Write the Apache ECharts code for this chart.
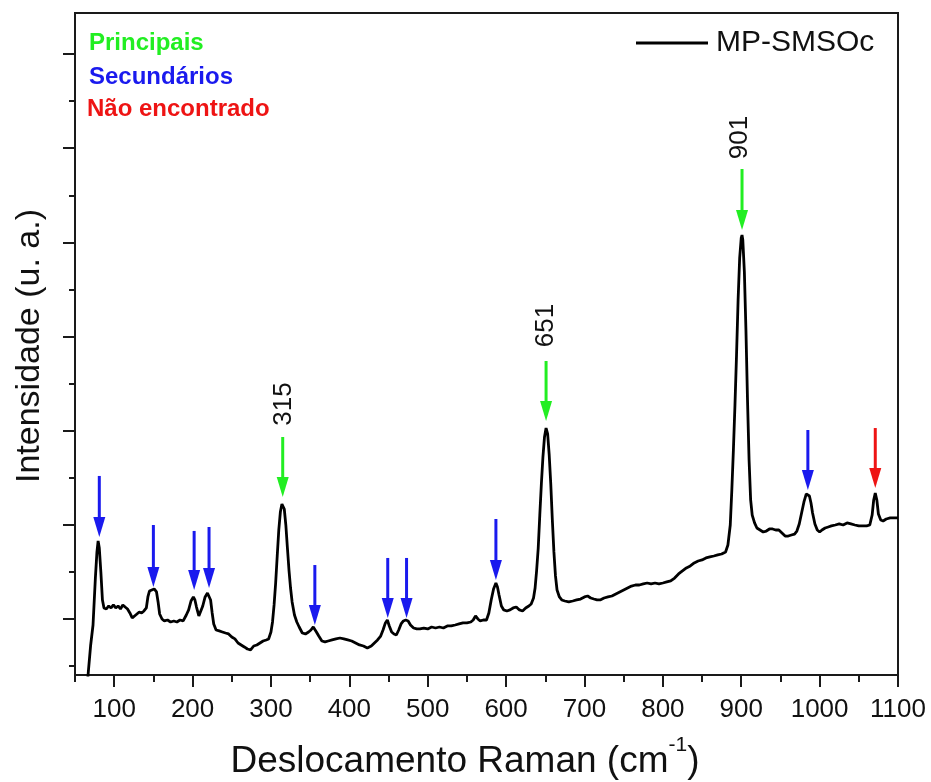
<!DOCTYPE html>
<html><head><meta charset="utf-8">
<script src="https://cdn.jsdelivr.net/npm/echarts@6/dist/echarts.min.js"></script>
<style>html,body{margin:0;padding:0;background:#fff}#c{width:931px;height:782px}</style>
</head><body><div id="c"></div>
<script>
// ---- data (Raman shift in cm-1, intensity in arbitrary units) ----
const seriesName = 'MP-SMSOc';
const wavenumber = [64,67,70,73,76,78,79.5,81,83,85,87,90,93,96,99,102,105,108,111,114,117,120,123,126,129,132,135,138,141,143,145,148,151,154,156,158,161,164,168,172,176,180,184,188,192,195,198,201,203,205,208,210,213,216,219,221,223,225,227,230,234,238,242,246,250,254,258,262,266,270,274,278,282,286,290,294,297,300,302,304,306,308,310,312,314,315.5,317,319,321,323,325,327,330,333,336,340,344,348,351,354,356,358,361,365,369,373,378,383,388,393,398,403,408,413,418,423,428,432,436,440,443,446,448.5,451,454,457,460,463,466,469,472,475,478,482,486,490,495,500,505,510,515,520,525,530,535,540,545,550,555,558,561,564,567,571,575,578,581,584,587,589,591,594,597,601,605,609,613,617,621,625,629,632,635,637,639,641,643,645,647,649,651,653,655,657,659,661,663,665,668,671,675,680,685,690,695,700,704,708,712,716,720,725,730,735,740,745,750,755,760,765,770,775,780,785,790,795,800,805,810,815,820,825,830,835,840,845,850,855,860,865,870,875,880,883,886,888,890,892,894,896,898,900,901,902,904,906,908,910,912,914,917,920,924,928,932,936,940,944,948,952,956,960,964,968,971,974,977,980,983,985,987,989,991,994,997,1000,1003,1007,1011,1015,1020,1025,1030,1035,1040,1045,1050,1055,1060,1064,1067,1069,1071,1073,1075,1078,1081,1085,1090,1095,1100];
const intensity = [140,437,724,936,1435,1712,1828,1754,1499,1202,1117,1106,1138,1117,1149,1117,1138,1106,1149,1127,1106,1064,1011,1032,1053,1074,1064,1085,1117,1234,1297,1308,1319,1287,1181,1053,1000,979,989,968,979,968,989,979,1042,1096,1191,1234,1202,1127,1032,1053,1138,1234,1276,1276,1202,1064,947,883,873,862,851,841,809,788,745,724,703,681,671,713,724,745,766,777,788,862,968,1149,1382,1669,1945,2136,2221,2232,2168,1998,1754,1520,1329,1181,1042,968,915,851,841,862,883,915,904,862,819,766,756,766,777,788,798,788,777,766,745,724,713,692,713,745,777,819,883,958,989,926,862,841,830,883,947,979,989,979,936,904,894,894,904,894,915,904,915,904,926,926,936,947,958,958,968,989,1032,1000,979,989,989,1064,1202,1319,1382,1340,1255,1138,1096,1085,1096,1117,1127,1096,1085,1117,1138,1159,1223,1329,1520,1754,2104,2434,2720,2933,3028,2965,2742,2434,2051,1712,1457,1308,1234,1202,1191,1181,1191,1202,1212,1234,1244,1223,1212,1202,1202,1223,1234,1244,1266,1287,1308,1329,1350,1361,1361,1372,1382,1372,1382,1372,1382,1393,1404,1435,1478,1510,1542,1563,1595,1616,1627,1648,1659,1669,1680,1690,1712,1786,1998,2370,2795,3273,3804,4388,4834,5047,5078,5025,4685,4069,3326,2689,2264,2104,2020,1966,1945,1924,1934,1956,1956,1945,1945,1913,1881,1881,1892,1902,1934,2009,2126,2243,2328,2338,2306,2232,2126,2009,1945,1924,1945,1966,1977,1988,1998,2009,1998,2020,2009,1998,1988,1988,1988,1998,2104,2264,2338,2264,2115,2051,2041,2062,2073,2073,2073];

// axis ticks
const xMajorTicks = [100,200,300,400,500,600,700,800,900,1000,1100];
const xMinorTicks = [50,150,250,350,450,550,650,750,850,950,1050];
const yMajorTicks = [1000,2000,3000,4000,5000,6000,7000];
const yMinorTicks = [500,1500,2500,3500,4500,5500,6500];

// band assignment arrows: position, top of shaft, tip (intensity units), kind
const arrowX    = [81,150,202,221,356,449,473,587,985,315,651,901,1071];
const arrowTop  = [2519,1998,1935,1977,1573,1648,1648,2062,3007,2933,3740,5779,3028];
const arrowTip  = [1871,1340,1308,1329,936,1011,1011,1414,2370,2296,3103,5131,2391];
const arrowKind = [1,1,1,1,1,1,1,1,1,0,0,0,2]; // 0 principal, 1 secundário, 2 não encontrado

// peak labels
const peakLabelText = ['315','651','901'];
const peakLabelX = [316.5,651,898.5];
const peakLabelY = [3283,4117,6114];

const groupNames = ['Principais','Secundários','Não encontrado'];
const groupColors = ['#22ee22','#1a1aee','#ee1414'];

const FONT = '"Liberation Sans", Arial, Helvetica, sans-serif';
const AX = '#1a1a1a';

const lineData = wavenumber.map((w,i)=>[w,intensity[i]]);
const arrowData = arrowX.map((x,i)=>[x,arrowTop[i],arrowTip[i],arrowKind[i]]);
const labelData = peakLabelX.map((x,i)=>[x,peakLabelY[i]]);

const chart = echarts.init(document.getElementById('c'), null, {renderer:'canvas'});
const option = {
  animation:false,
  backgroundColor:'#ffffff',
  grid:{left:75,right:33,top:13,bottom:107,show:true,borderColor:AX,borderWidth:2,backgroundColor:'transparent'},
  legend:{
    data:[seriesName], left:636, top:28, padding:0,
    icon:'rect', itemWidth:72, itemHeight:3,
    itemStyle:{color:'#000'},
    textStyle:{fontSize:30, fontFamily:FONT, color:'#111', lineHeight:30, padding:[0,0,0,3]}
  },
  xAxis:[
    {type:'value', min:50, max:1100, position:'bottom',
     axisLine:{show:true,onZero:false,lineStyle:{color:AX,width:2}},
     axisTick:{show:true,inside:false,length:12,customValues:xMajorTicks,lineStyle:{color:AX,width:2}},
     axisLabel:{show:true,customValues:xMajorTicks,fontSize:26,fontFamily:FONT,color:'#111',margin:22,
       formatter:function(v){return String(v);}},
     splitLine:{show:false}},
    {type:'value', min:50, max:1100, position:'bottom',
     axisLine:{show:false,onZero:false},
     axisTick:{show:true,inside:false,length:7,customValues:xMinorTicks,lineStyle:{color:AX,width:2}},
     axisLabel:{show:false}, splitLine:{show:false}}
  ],
  yAxis:[
    {type:'value', min:405, max:7436, position:'left',
     axisLine:{show:true,onZero:false,lineStyle:{color:AX,width:2}},
     axisTick:{show:true,inside:false,length:12,customValues:yMajorTicks,lineStyle:{color:AX,width:2}},
     axisLabel:{show:false}, splitLine:{show:false}},
    {type:'value', min:405, max:7436, position:'left',
     axisLine:{show:false,onZero:false},
     axisTick:{show:true,inside:false,length:6,customValues:yMinorTicks,lineStyle:{color:AX,width:2}},
     axisLabel:{show:false}, splitLine:{show:false}}
  ],
  graphic:[
    {type:'text', x:30, y:346, rotation:Math.PI/2,
     style:{text:'Intensidade (u. a.)', fontSize:34, fontFamily:FONT, fill:'#111', align:'center', verticalAlign:'middle'}},
    {type:'text', x:465, y:762,
     style:{text:'{n|Deslocamento Raman (cm}{sup|-1}{n|)}', fontFamily:FONT, fill:'#111', align:'center', verticalAlign:'middle',
       rich:{
         n:{fontSize:37, fontFamily:FONT, fill:'#111', lineHeight:54, verticalAlign:'middle'},
         sup:{fontSize:21, fontFamily:FONT, fill:'#111', lineHeight:22, verticalAlign:'top'}
       }}},
    {type:'text', x:89, y:43, style:{text:groupNames[0], fontSize:24, fontWeight:'bold', fontFamily:FONT, fill:groupColors[0], align:'left', verticalAlign:'middle'}},
    {type:'text', x:89, y:77, style:{text:groupNames[1], fontSize:24, fontWeight:'bold', fontFamily:FONT, fill:groupColors[1], align:'left', verticalAlign:'middle'}},
    {type:'text', x:87, y:109, style:{text:groupNames[2], fontSize:24, fontWeight:'bold', fontFamily:FONT, fill:groupColors[2], align:'left', verticalAlign:'middle'}}
  ],
  series:[
    {name:seriesName, type:'line', xAxisIndex:0, yAxisIndex:0, data:lineData,
     showSymbol:false, symbol:'none', smooth:false, clip:true,
     lineStyle:{color:'#000', width:2.8}, itemStyle:{color:'#000'}, z:3},
    {name:'arrows', type:'custom', xAxisIndex:0, yAxisIndex:0, data:arrowData,
     encode:{x:0,y:[1,2]}, silent:true, z:4,
     renderItem:function(params, api){
       const x = api.value(0), top = api.value(1), tip = api.value(2), k = api.value(3);
       const p1 = api.coord([x, top]), p2 = api.coord([x, tip]);
       const c = groupColors[k];
       const hH = 20, hW = 12;
       return {type:'group', children:[
         {type:'line', shape:{x1:p1[0],y1:p1[1],x2:p2[0],y2:p2[1]-hH+2}, style:{stroke:c,lineWidth:3}},
         {type:'polygon', shape:{points:[[p2[0]-hW/2,p2[1]-hH],[p2[0]+hW/2,p2[1]-hH],[p2[0],p2[1]]]}, style:{fill:c}}
       ]};
     }},
    {name:'labels', type:'custom', xAxisIndex:0, yAxisIndex:0, data:labelData,
     encode:{x:0,y:1}, silent:true, z:4,
     renderItem:function(params, api){
       const p = api.coord([api.value(0), api.value(1)]);
       return {type:'text', x:p[0], y:p[1], rotation:Math.PI/2,
         style:{text:peakLabelText[params.dataIndex], fontSize:26, fontFamily:FONT, fill:'#111', align:'center', verticalAlign:'middle'}};
     }}
  ]
};
chart.setOption(option);
</script></body></html>
